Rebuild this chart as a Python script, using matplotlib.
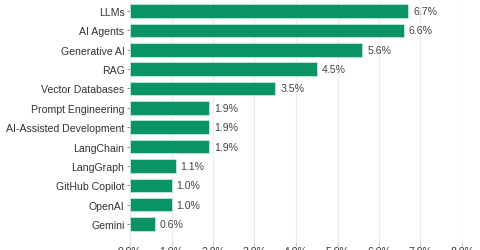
import matplotlib
matplotlib.use("Agg")
import matplotlib.pyplot as plt
from matplotlib.ticker import FuncFormatter

# skill share data
skills = [
    "LLMs", "AI Agents", "Generative AI", "RAG", "Vector Databases",
    "Prompt Engineering", "AI-Assisted Development", "LangChain",
    "LangGraph", "GitHub Copilot", "OpenAI", "Gemini",
]
shares = [6.7, 6.6, 5.6, 4.5, 3.5, 1.9, 1.9, 1.9, 1.1, 1.0, 1.0, 0.6]
x_ticks = [0, 1, 2, 3, 4, 5, 6, 7, 8]

plt.rcParams["font.family"] = ["Liberation Sans", "DejaVu Sans"]

fig = plt.figure(figsize=(4.8, 2.51), dpi=100)
ax = fig.add_axes([130 / 480, 8 / 251, 332 / 480, 241 / 251])

ypos = list(range(len(skills)))
bars = ax.barh(ypos, shares, height=0.7, color="#0a9365",
               edgecolor="#c9f0e0", linewidth=0.5, zorder=3)

for b, v in zip(bars, shares):
    ax.text(b.get_width() + 0.12, b.get_y() + b.get_height() / 2,
            f"{v:.1f}%", va="center", ha="left", fontsize=7.6, color="#444444")

ax.set_yticks(ypos)
ax.set_yticklabels(skills, fontsize=7.6, color="#333333")
ax.set_ylim(11.93, -0.52)

ax.set_xlim(0, 8)
ax.set_xticks(x_ticks)
ax.xaxis.set_major_formatter(FuncFormatter(lambda v, p: f"{v:.1f}%"))
ax.tick_params(axis="x", labelsize=7.6, labelcolor="#333333", color="#cccccc",
               length=3, pad=0)
ax.tick_params(axis="y", color="#999999", length=2, pad=2)

ax.grid(axis="x", color="#ebebeb", linewidth=0.8, zorder=0)
for s in ax.spines.values():
    s.set_visible(False)

fig.savefig("out.png", dpi=100)
